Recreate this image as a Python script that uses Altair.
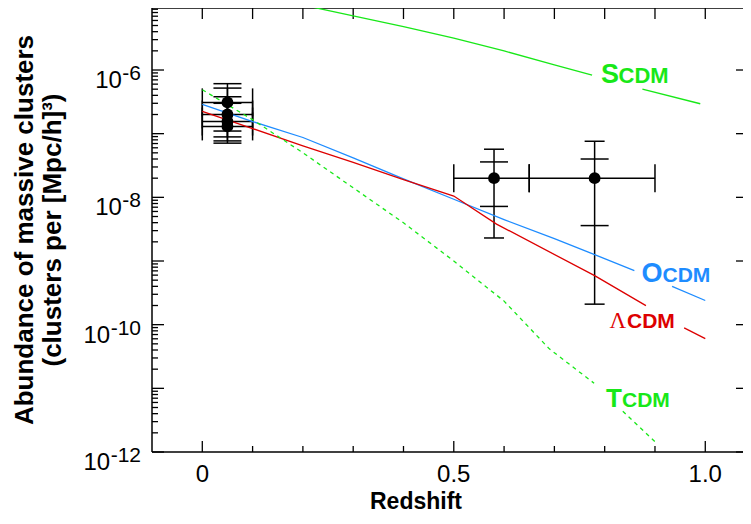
import altair as alt
import pandas as pd

# ---------------- data ----------------
# model curves: redshift and log10(abundance); None marks a break in the drawn line
SCDM_Z = [0.2, 0.3, 0.4, 0.5, 0.6, 0.7, 0.775, None, 0.875, 0.99]
SCDM_LOG10 = [-4.98, -5.15, -5.32, -5.50, -5.70, -5.92, -6.08, None, -6.30, -6.53]

OCDM_Z = [0.0, 0.1, 0.2, 0.3, 0.4, 0.5, 0.6, 0.7, 0.78, 0.859, None, 0.934, 1.0]
OCDM_LOG10 = [-6.54, -6.81, -7.06, -7.38, -7.71, -8.03, -8.35, -8.65, -8.90, -9.15, None, -9.40, -9.62]

LCDM_Z = [0.0, 0.1, 0.2, 0.3, 0.4, 0.5, 0.585, 0.78, 0.882, None, 0.958, 1.0]
LCDM_LOG10 = [-6.65, -6.92, -7.19, -7.45, -7.72, -7.98, -8.42, -9.23, -9.70, None, -10.05, -10.22]

TCDM_Z = [0.0, 0.1, 0.2, 0.3, 0.4, 0.5, 0.6, 0.69, 0.779, None, 0.836, 0.903]
TCDM_LOG10 = [-6.31, -6.78, -7.30, -7.85, -8.40, -9.00, -9.63, -10.38, -10.92, None, -11.36, -11.86]

# observed clusters
OBS_Z = [0.05, 0.05, 0.05, 0.05, 0.58, 0.78]
OBS_Z_LO = [0.0, 0.0, 0.0, 0.0, 0.50, 0.65]
OBS_Z_HI = [0.1, 0.1, 0.1, 0.1, 0.65, 0.90]
OBS_N = [3.1e-7, 2.0e-7, 1.55e-7, 1.3e-7, 2.0e-8, 2.0e-8]
OBS_N_LO = [8.9e-8, 7.7e-8, 7.1e-8, 1.1e-7, 2.3e-9, 2.1e-10]
OBS_N_HI = [6.1e-7, 5.2e-7, 3.8e-7, 3.0e-7, 5.7e-8, 7.6e-8]
OBS_GROUP = ["low", "low", "low", "low", "high", "high"]
# inner error range of the two distant clusters
HZ_Z = [0.58, 0.78]
HZ_N_LO = [7.2e-9, 3.6e-9]
HZ_N_HI = [3.6e-8, 4.0e-8]

# axes
X_MAJOR = [0.0, 0.5, 1.0]
X_MAJOR_LABELS = ["0", "0.5", "1.0"]
X_MINOR = [0.1, 0.2, 0.3, 0.4, 0.6, 0.7, 0.8, 0.9]
Y_DECADES = [-12, -11, -10, -9, -8, -7, -6]
Y_LABEL_EXP = [-6, -8, -10, -12]

# ---------------- styling ----------------
FONT = "Liberation Sans"
GREEN = "#18e818"
BLUE = "#1e8cff"
RED = "#dd0000"
W, H = 591, 444

xs = alt.Scale(domain=[-0.1, 1.075], nice=False, zero=False)
ys = alt.Scale(type="log", domain=[1e-12, 10 ** -5.026], nice=False)


def X(f="z"):
    return alt.X(f"{f}:Q", scale=xs, axis=None)


def Y(f="n"):
    return alt.Y(f"{f}:Q", scale=ys, axis=None)


def model_df(name, zs, logs):
    rows, seg = [], 0
    for z, l in zip(zs, logs):
        if z is None or l is None:
            seg += 1
            continue
        rows.append({"model": name, "seg": f"{name}{seg}", "z": z, "n": 10 ** l})
    return pd.DataFrame(rows)


def model_line(name, zs, logs, color, dash=None):
    kw = dict(color=color, strokeWidth=1.3, clip=True)
    if dash:
        kw["strokeDash"] = dash
    return alt.Chart(model_df(name, zs, logs)).mark_line(**kw).encode(
        x=X(), y=Y(), detail="seg:N", order="z:Q"
    )


one = pd.DataFrame({"a": [0]})
layers = []

# ---- frame lines (left, bottom, top) ----
layers.append(alt.Chart(one).mark_rule(color="black", strokeWidth=1.5).encode(
    x=alt.value(0), y=alt.value(0), y2=alt.value(H)))
layers.append(alt.Chart(one).mark_rule(color="black", strokeWidth=1.5).encode(
    x=alt.value(0), x2=alt.value(W), y=alt.value(H)))
layers.append(alt.Chart(one).mark_rule(color="black", strokeWidth=1.5).encode(
    x=alt.value(0), x2=alt.value(W), y=alt.value(0)))

# ---- ticks ----
ymaj = pd.DataFrame({"n": [10.0 ** e for e in Y_DECADES]})
ymin = pd.DataFrame({"n": [m * 10.0 ** e for e in Y_DECADES for m in range(2, 10)]})
ymin = ymin[ymin["n"] < 10 ** -5.026]
xmaj = pd.DataFrame({"z": X_MAJOR, "label": X_MAJOR_LABELS})
xmin = pd.DataFrame({"z": X_MINOR})
xall = pd.DataFrame({"z": sorted(X_MAJOR + X_MINOR)})

tick = dict(color="black", strokeWidth=1.3)
layers.append(alt.Chart(ymaj).mark_rule(**tick).encode(y=Y(), x=alt.value(0), x2=alt.value(12)))
layers.append(alt.Chart(ymin).mark_rule(**tick).encode(y=Y(), x=alt.value(0), x2=alt.value(6)))
layers.append(alt.Chart(ymaj).mark_rule(**tick).encode(y=Y(), x=alt.value(W - 7), x2=alt.value(W)))
layers.append(alt.Chart(xmaj).mark_rule(**tick).encode(x=X(), y=alt.value(H), y2=alt.value(H - 11)))
layers.append(alt.Chart(xmin).mark_rule(**tick).encode(x=X(), y=alt.value(H), y2=alt.value(H - 6)))
layers.append(alt.Chart(xall).mark_rule(**tick).encode(x=X(), y=alt.value(0), y2=alt.value(11)))

# ---- tick labels ----
layers.append(alt.Chart(xmaj).mark_text(font=FONT, fontSize=24, align="center", baseline="middle", color="black")
              .encode(x=X(), y=alt.value(467), text="label:N"))
SUP = 21
for e in Y_LABEL_EXP:
    sup = f"{e}"
    supw = (0.333 + 0.556 * (len(sup) - 1)) * SUP
    d = pd.DataFrame({"n": [10.0 ** e]})
    layers.append(alt.Chart(d).mark_text(font=FONT, fontSize=SUP, align="right", baseline="alphabetic",
                                         dy=10, text=sup, color="black")
                  .encode(y=Y(), x=alt.value(-11)))
    layers.append(alt.Chart(d).mark_text(font=FONT, fontSize=24, align="right", baseline="alphabetic",
                                         dy=18, text="10", color="black")
                  .encode(y=Y(), x=alt.value(-11 - supw - 0.5)))

# ---- axis titles ----
layers.append(alt.Chart(one).mark_text(font=FONT, fontSize=23, fontWeight="bold", align="center",
                                       baseline="alphabetic", text="Redshift", color="black")
              .encode(x=alt.value(264), y=alt.value(501)))
layers.append(alt.Chart(one).mark_text(font=FONT, fontSize=26, fontWeight="bold", align="center", angle=270,
                                       baseline="alphabetic", text="Abundance of massive clusters", color="black")
              .encode(x=alt.value(-119), y=alt.value(222)))
layers.append(alt.Chart(one).mark_text(font=FONT, fontSize=26, fontWeight="bold", align="center", angle=270,
                                       baseline="alphabetic", text="(clusters per [Mpc/h]³)", color="black")
              .encode(x=alt.value(-91), y=alt.value(222)))

# ---- error bars ----
obs = pd.DataFrame({"z": OBS_Z, "zlo": OBS_Z_LO, "zhi": OBS_Z_HI, "n": OBS_N,
                    "nlo": OBS_N_LO, "nhi": OBS_N_HI, "g": OBS_GROUP})
hz = pd.DataFrame({"z": HZ_Z, "nlo": HZ_N_LO, "nhi": HZ_N_HI})
eb = dict(color="black", strokeWidth=1.5)
base = alt.Chart(obs)
layers.append(base.mark_rule(**eb).encode(x=X("zlo"), x2="zhi:Q", y=Y()))
layers.append(base.mark_rule(**eb).encode(x=X(), y=Y("nlo"), y2="nhi:Q"))
for f in ["zlo", "zhi"]:
    layers.append(base.mark_rule(yOffset=-14, y2Offset=14, **eb).encode(x=X(f), y=Y(), y2="n:Q"))
for f in ["nlo", "nhi"]:
    layers.append(base.transform_filter("datum.g == 'low'").mark_rule(xOffset=-14, x2Offset=14, **eb)
                  .encode(x=X(), x2="z:Q", y=Y(f)))
    layers.append(base.transform_filter("datum.g == 'high'").mark_rule(xOffset=-10, x2Offset=10, **eb)
                  .encode(x=X(), x2="z:Q", y=Y(f)))
    layers.append(alt.Chart(hz).mark_rule(xOffset=-14, x2Offset=14, **eb)
                  .encode(x=X(), x2="z:Q", y=Y(f)))

# ---- model curves ----
layers.append(model_line("SCDM", SCDM_Z, SCDM_LOG10, GREEN))
layers.append(model_line("OCDM", OCDM_Z, OCDM_LOG10, BLUE))
layers.append(model_line("LCDM", LCDM_Z, LCDM_LOG10, RED))
layers.append(model_line("TCDM", TCDM_Z, TCDM_LOG10, GREEN, dash=[4, 4]))

# ---- points ----
layers.append(base.mark_circle(size=140, color="black", opacity=1).encode(x=X(), y=Y()))

# ---- model labels ----
def label(big, small, x, y, color, bigsize, smallsize, bigw, bigfont=FONT):
    out = [
        alt.Chart(one).mark_text(font=bigfont, fontSize=bigsize, fontWeight="bold" if bigfont == FONT else "normal",
                                 align="left", baseline="alphabetic", text=big, color=color)
        .encode(x=alt.value(x), y=alt.value(y)),
        alt.Chart(one).mark_text(font=FONT, fontSize=smallsize, fontWeight="bold", align="left",
                                 baseline="alphabetic", text=small, color=color)
        .encode(x=alt.value(x + bigw), y=alt.value(y)),
    ]
    return out

layers += label("S", "CDM", 449, 75, GREEN, 27, 22, 17.5)
layers += label("O", "CDM", 489.5, 274, BLUE, 27, 21, 21)
layers += label("Λ", "CDM", 457.5, 320, RED, 23, 21, 17.5, bigfont="Liberation Serif")
layers += label("T", "CDM", 454, 399, GREEN, 26, 21, 16)

chart = alt.layer(*layers).properties(
    width=W, height=H,
    padding={"left": 144, "top": 0, "right": 0, "bottom": 64},
    autosize=alt.AutoSizeParams(type="none"),
).configure_view(stroke=None)

chart.save("out.html", embed_options={"renderer": "svg", "actions": False})
